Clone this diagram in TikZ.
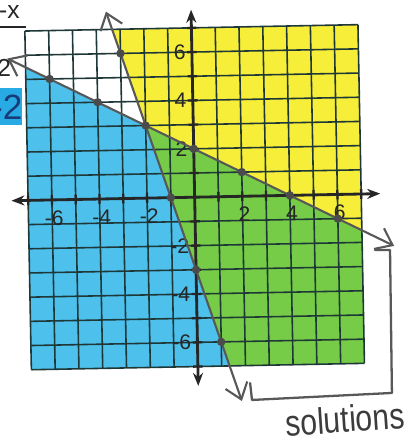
\documentclass[tikz,border=0pt]{standalone}
\usepackage{fontspec}
\setmainfont{Liberation Sans}
\newfontfamily\handfont[FakeStretch=0.82]{Liberation Sans}
\usepackage{xcolor}
\usepackage{tikz}
\usetikzlibrary{arrows.meta,positioning,calc}

\definecolor{hiYellow}{RGB}{246,238,56}
\definecolor{hiBlue}{RGB}{78,192,236}
\definecolor{hiGreen}{RGB}{118,204,70}
\definecolor{gridInk}{RGB}{30,55,55}
\definecolor{axisInk}{RGB}{38,38,38}
\definecolor{penGray}{RGB}{88,88,88}
\definecolor{noteBlue}{RGB}{40,170,228}
\definecolor{noteInk}{RGB}{25,60,120}

\begin{document}
\begin{tikzpicture}[x=0.476cm, y=0.484cm,
    gridline/.style={gridInk, line width=0.9pt},
    axisline/.style={axisInk, line width=1.6pt, {Stealth[length=2.6mm,width=2mm]}-{Stealth[length=2.6mm,width=2mm]}},
    tickmark/.style={axisInk, line width=1.3pt},
    graphline/.style={penGray, line width=1.2pt, line cap=round, {Straight Barb[length=3mm,width=4.6mm]}-{Straight Barb[length=3mm,width=4.6mm]}},
    dot/.style={circle, fill=penGray!85!black, inner sep=0pt, minimum size=4.8pt},
    numlabel/.style={font=\fontsize{12}{14}\selectfont, text=axisInk, inner sep=1pt}]

  % Picture frame
  \useasboundingbox (-8.18,-10.2) rectangle (9.01,8.15);
  \clip (-8.18,-10.2) rectangle (9.01,8.15);

  \begin{scope}[rotate=1.1]
    % Shaded regions
    \coordinate (cross) at (-2,3);
    \fill[hiBlue] (-7,5.5) -- (cross) -- (4/3,-7) -- (-7,-7) -- cycle;
    \fill[hiYellow] (cross) -- (-10/3,7) -- (7,7) -- (7,-1.5) -- cycle;
    \fill[hiGreen] (cross) -- (7,-1.5) -- (7,-7) -- (4/3,-7) -- cycle;

    % Grid, one line per unit
    \foreach \g in {-7,...,7} {
      \draw[gridline] (\g,-7) -- (\g,7);
      \draw[gridline] (-7,\g) -- (7,\g);
    }

    % Axes with tick marks
    \coordinate (xL) at (-7.7,0);
    \coordinate (xR) at (7.8,0);
    \coordinate (yB) at (0,-7.8);
    \coordinate (yT) at (0,7.75);
    \draw[axisline] (xL) -- (xR);
    \draw[axisline] (yB) -- (yT);
    \foreach \t in {-7,...,7} {
      \ifnum\t=0 \else
        \draw[tickmark] (\t,-0.2) -- (\t,0.2);
        \draw[tickmark] (-0.2,\t) -- (0.2,\t);
      \fi
    }

    % Axis numbers
    \foreach \v in {-6,-4,-2,2,4,6} {
      \node[numlabel] (xnum\v) at (\v+0.08,-0.75) {\v};
      \node[numlabel, anchor=east] (ynum\v) at (-0.18,\v) {\v};
    }

    % Boundary lines
    \coordinate (lineAw) at (-7.76,5.88);
    \coordinate (lineAe) at (8.34,-2.17);
    \coordinate (lineBn) at (-3.58,7.74);
    \coordinate (lineBs) at (1.82,-8.46);
    \draw[graphline] (lineAw) -- (lineAe);
    \draw[graphline] (lineBn) -- (lineBs);

    % Plotted points
    \foreach \px/\py [count=\i] in {-6/5,-4/4,0/2,2/1,4/0,6/-1} {
      \node[dot] (a\i) at (\px,\py) {};
    }
    \foreach \px/\py [count=\i] in {-3/6,-2/3,-1/0,0/-3,1/-6} {
      \node[dot] (b\i) at (\px,\py) {};
    }
  \end{scope}

  % Notes cut off at the left edge
  \node[font=\fontsize{14}{16}\selectfont, text=axisInk, anchor=east, inner sep=0pt] (noteX) at (-7.34,7.65) {-x};
  \coordinate (barW) at (-8.18,7.03);
  \coordinate (barE) at (-7.1,7.03);
  \draw[axisInk, line width=1.2pt] (barW) -- (barE);
  \node[font=\fontsize{14}{16}\selectfont, text=axisInk, anchor=east, inner sep=0pt] (noteTwo) at (-7.7,5.33) {2};
  \fill[noteBlue] (-8.18,2.98) rectangle (-7.25,4.51);
  \node[font=\fontsize{20}{22}\selectfont, text=noteInk, anchor=east, inner sep=0pt] (noteHi) at (-7.22,3.73) {-2};

  % Bracket round the solutions
  \coordinate (brA) at (7.58,-2.18);
  \coordinate (brB) at (8.21,-2.18);
  \coordinate (brC) at (8.29,-8.09);
  \coordinate (brD) at (2.41,-8.38);
  \coordinate (brE) at (2.33,-7.68);
  \draw[penGray, line width=1.3pt, line join=round, line cap=round] (brA) -- (brB) -- (brC) -- (brD) -- (brE);
  \node[font=\handfont\fontsize{21}{24}\selectfont, text=axisInk!90, rotate=4] (solLabel) at (6.32,-9.17) {solutions};
\end{tikzpicture}
\end{document}
